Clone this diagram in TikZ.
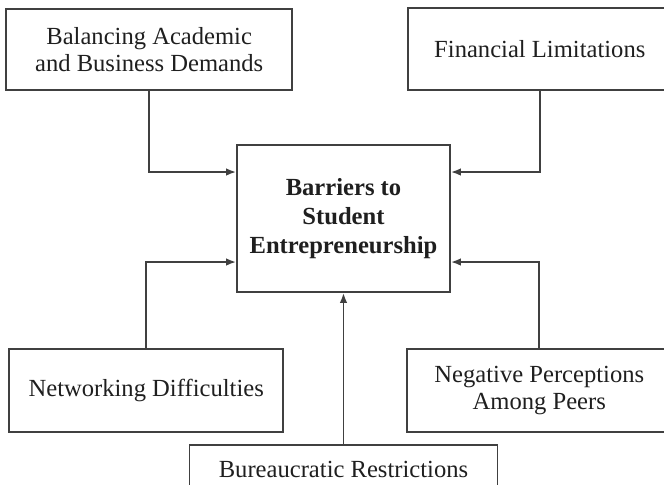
\documentclass[tikz,border=0pt]{standalone}
\usepackage{fontspec}
\setmainfont{Liberation Serif}
\usetikzlibrary{arrows.meta, positioning}

\begin{document}
\begin{tikzpicture}[]
\tikzset{%
  block/.style={rectangle, draw, line width=0.9pt, color=black!75, text=black!88, align=center,
    inner sep=0pt, font=\fontsize{12.3}{13.5}\selectfont},
  line/.style={draw, line width=0.9pt, color=black!75, -{Latex[length=5pt, width=3.8pt]}},
}
\newlength{\RowSep}
\setlength{\RowSep}{26.5pt}
\useasboundingbox (-171.75pt,-132.75pt) rectangle (160.25pt,109.25pt);

\node[block, minimum width=106.5pt, minimum height=73.5pt,
  font=\fontsize{12.3}{14.5}\selectfont\bfseries]
  (Barriers) {Barriers to\\Student\\Entrepreneurship};

\node[block, minimum width=143pt, minimum height=40.5pt,
  above left=\RowSep and -28.5pt of Barriers]
  (Balancing) {Balancing Academic\\and Business Demands};
\node[block, minimum width=132pt, minimum height=41pt,
  above right=\RowSep and -22pt of Barriers]
  (Financial) {Financial Limitations};

\node[block, minimum width=137pt, minimum height=41.5pt,
  below left=27.5pt and -24pt of Barriers]
  (Networking) {Networking Difficulties};
\node[block, minimum width=132.5pt, minimum height=41.5pt,
  below right=27.5pt and -22.5pt of Barriers]
  (Negative) {Negative Perceptions\\Among Peers};
\node[block, minimum width=154pt, minimum height=25pt,
  below=75.5pt of Barriers]
  (Bureaucratic) {Bureaucratic Restrictions};

\draw[line] (Balancing.south) |- ([yshift=23.25pt]Barriers.west);
\draw[line] (Financial.south) |- ([yshift=23.25pt]Barriers.east);
\draw[line] (Networking.north) |- ([yshift=-21.75pt]Barriers.west);
\draw[line] (Negative.north) |- ([yshift=-21.75pt]Barriers.east);
\draw[line] (Bureaucratic.north) -- (Barriers.south);
\end{tikzpicture}
\end{document}
